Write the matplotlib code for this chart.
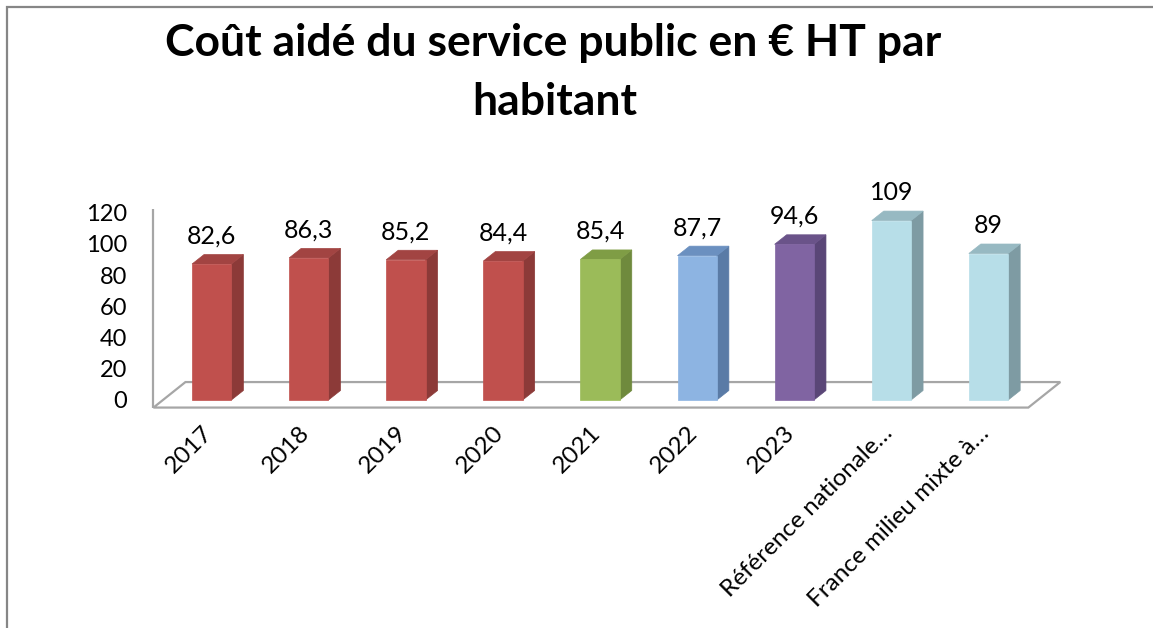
import numpy as np
import matplotlib
matplotlib.use('Agg')
import matplotlib.pyplot as plt
from matplotlib.patches import Polygon, Rectangle
from matplotlib.transforms import ScaledTranslation

plt.rcParams['font.family'] = ['Lato', 'DejaVu Sans']

# data
categories = ['2017', '2018', '2019', '2020', '2021', '2022', '2023',
              'Référence nationale…', 'France milieu mixte à…']
values = [82.6, 86.3, 85.2, 84.4, 85.4, 87.7, 94.6, 109, 89]
labels = ['82,6', '86,3', '85,2', '84,4', '85,4', '87,7', '94,6', '109', '89']

# (front, side, top) colours per bar
red = ('#C0504D', '#8C3A38', '#A24442')
green = ('#9BBB59', '#6F8A3D', '#7F9D45')
blue = ('#8DB4E2', '#5A7BA6', '#6B90C0')
purple = ('#8064A2', '#5A4677', '#6A5389')
cyan = ('#B7DEE8', '#7E9BA3', '#97B9C2')
bar_colors = [red, red, red, red, green, blue, purple, cyan, cyan]

W, H = 1153, 628
fig = plt.figure(figsize=(W/100, H/100), dpi=100)

# pixel layout
px_per_cat = 97.1
px_per_unit = 1.646
xlo, xhi = -0.6, 8.6
ylo, yhi = -6, 135
left_px = 211.7 + xlo*px_per_cat
zero_px = 400
bottom_px = zero_px - ylo*px_per_unit
ax = fig.add_axes([left_px/W, (H - bottom_px)/H,
                   (xhi - xlo)*px_per_cat/W, (yhi - ylo)*px_per_unit/H])
ax.set_xlim(xlo, xhi)
ax.set_ylim(ylo, yhi)
for s in ax.spines.values():
    s.set_visible(False)

# 3D depth in data units
bw = 0.405
dx = 12/px_per_cat
dy = 9.5/px_per_unit

# floor + vertical axis line
fl_front, fl_back = -4.6, 10.9
fl_dx = 32/px_per_cat
floor = Polygon([(xlo, fl_front), (8.41, fl_front), (8.41 + fl_dx, fl_back),
                 (xlo + fl_dx, fl_back)], closed=True, facecolor='white',
                edgecolor='#A6A6A6', lw=1.6, zorder=1, clip_on=False)
ax.add_patch(floor)
ax.plot([xlo, xlo], [fl_front, 116], color='#A6A6A6', lw=1.6, zorder=1,
        clip_on=False, solid_capstyle='butt')

x = np.arange(len(categories))
for i, v in enumerate(values):
    front, side, top = bar_colors[i]
    xr = x[i] + bw/2
    xl = x[i] - bw/2
    ax.add_patch(Polygon([(xr, 0), (xr + dx, dy), (xr + dx, v + dy), (xr, v)],
                         facecolor=side, edgecolor=side, lw=0.5, zorder=3))
    ax.add_patch(Polygon([(xl, v), (xr, v), (xr + dx, v + dy), (xl + dx, v + dy)],
                         facecolor=top, edgecolor=top, lw=0.5, zorder=3))
ax.bar(x, values, width=bw, color=[c[0] for c in bar_colors],
       edgecolor=[c[0] for c in bar_colors], lw=0.5, zorder=4)

for i, v in enumerate(values):
    ax.annotate(labels[i], (x[i], v), xytext=(0, 28), textcoords='offset pixels',
                ha='center', va='center', fontsize=18, color='black')

# x tick labels
ax.set_xticks(x)
ax.set_xticklabels(categories, rotation=45, ha='right', va='top',
                   rotation_mode='anchor', fontsize=17.5)
ax.tick_params(axis='x', length=0, pad=9)
shift = ScaledTranslation(-10/100, 0, fig.dpi_scale_trans)
for lab in ax.get_xticklabels():
    lab.set_transform(lab.get_transform() + shift)
ax.set_yticks([])

# value axis labels (back wall scale slightly different from bars)
k = 1.055
sec = ax.secondary_yaxis('left', functions=(lambda v: v*k, lambda s: s/k))
sec.set_yticks([0, 20, 40, 60, 80, 100, 120])
sec.tick_params(length=0, pad=19, labelsize=17)
for s in sec.spines.values():
    s.set_visible(False)

# title
fig.text(553/W, 1 - 56/H, 'Coût aidé du service public en € HT par',
         ha='center', va='baseline', fontsize=32, fontweight='bold')
fig.text(555/W, 1 - 115/H, 'habitant',
         ha='center', va='baseline', fontsize=32, fontweight='bold')

# chart frame
fig.add_artist(Rectangle((6.5/W, -0.05), 1.1, 1.05 - 6.5/H, transform=fig.transFigure,
                         fill=False, edgecolor='#868686', lw=1.6))

fig.savefig('out.png', dpi=100)
